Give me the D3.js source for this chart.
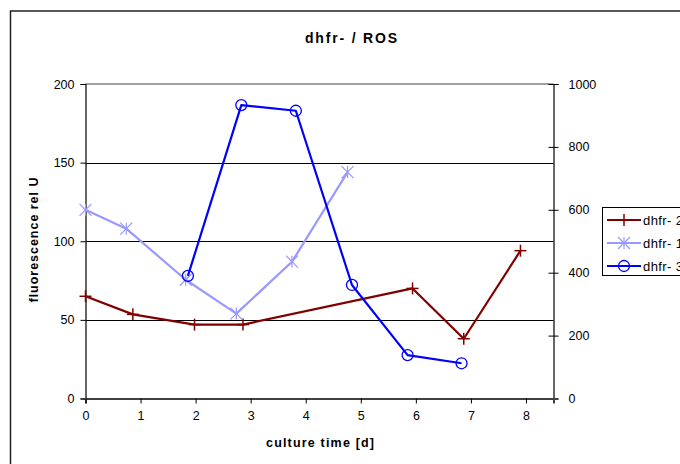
<!DOCTYPE html>
<html>
<head>
<meta charset="utf-8">
<script src="https://cdn.jsdelivr.net/npm/d3@7"></script>
<style>
  html, body { margin: 0; padding: 0; background: #fff; }
  svg { display: block; font-family: "Liberation Sans", Arial, sans-serif; }
</style>
</head>
<body>
<svg id="chart" width="680" height="464"></svg>
<script>
// Culture time [d] and readings per series
const seriesNames = ["dhfr- 2", "dhfr- 1", "dhfr- 3"];

const dhfr2Days  = [0, 0.86, 1.98, 2.86, 5.94, 6.87, 7.9];
const dhfr2Value = [65, 53.5, 47, 47, 70, 38, 94];

const dhfr1Days  = [0, 0.74, 1.82, 2.74, 3.75, 4.76];
const dhfr1Value = [120, 108, 75.5, 54, 87, 144];

// plotted against the right axis
const dhfr3Days  = [1.86, 2.83, 3.82, 4.84, 5.85, 6.83];
const dhfr3Value = [390, 933, 915, 361, 138, 112];

const xTicks      = [0, 1, 2, 3, 4, 5, 6, 7, 8];
const leftTicks   = [0, 50, 100, 150, 200];
const rightTicks  = [0, 200, 400, 600, 800, 1000];

const svg = d3.select("#chart");

const plot = { left: 85.5, right: 553.5, top: 84, bottom: 398.5 };

const x = d3.scaleLinear().domain([0, 8.5]).range([plot.left, plot.right]);
const yL = d3.scaleLinear().domain([0, 200]).range([plot.bottom, plot.top]);
const yR = d3.scaleLinear().domain([0, 1000]).range([plot.bottom, plot.top]);

// outer chart frame
svg.append("rect")
  .attr("x", 10.5).attr("y", 11)
  .attr("width", 720).attr("height", 500)
  .attr("fill", "#fff").attr("stroke", "#222").attr("stroke-width", 1.5);

// title
svg.append("text")
  .attr("x", 351).attr("y", 43)
  .attr("text-anchor", "middle")
  .attr("font-size", 14).attr("font-weight", "bold")
  .attr("textLength", 92).attr("lengthAdjust", "spacing")
  .text("dhfr- / ROS");

// horizontal gridlines
svg.append("g")
  .selectAll("line")
  .data(leftTicks.filter(d => d > 0 && d < 200))
  .join("line")
  .attr("x1", plot.left).attr("x2", plot.right)
  .attr("y1", d => Math.round(yL(d)) + 0.5).attr("y2", d => Math.round(yL(d)) + 0.5)
  .attr("stroke", "#000").attr("stroke-width", 1);

// plot area top border
svg.append("line")
  .attr("x1", plot.left).attr("x2", plot.right)
  .attr("y1", plot.top).attr("y2", plot.top)
  .attr("stroke", "#808080").attr("stroke-width", 1.5);

const tickFont = g => g.selectAll(".tick text")
  .attr("font-size", 12.5).attr("fill", "#000")
  .attr("font-family", "Liberation Sans, Arial, sans-serif");

// left axis
const leftAxis = d3.axisLeft(yL).tickValues(leftTicks).tickSize(5).tickPadding(6).tickFormat(d3.format("d"));
const gL = svg.append("g").attr("transform", `translate(${plot.left},0)`).call(leftAxis);
gL.select(".domain").attr("stroke", "#000").attr("stroke-width", 1.2);
gL.selectAll(".tick line").attr("stroke", "#000");
tickFont(gL);

// right axis (ticks cross the axis line)
const rightAxis = d3.axisRight(yR).tickValues(rightTicks).tickSize(5).tickPadding(10).tickFormat(d3.format("d"));
const gR = svg.append("g").attr("transform", `translate(${plot.right},0)`).call(rightAxis);
gR.select(".domain").attr("stroke", "#000").attr("stroke-width", 1.2);
gR.selectAll(".tick line").attr("stroke", "#000").attr("x1", -5);
tickFont(gR);

// bottom axis
const bottomAxis = d3.axisBottom(x).tickValues(xTicks).tickSize(5).tickPadding(8).tickFormat(d3.format("d"));
const gB = svg.append("g").attr("transform", `translate(0,${plot.bottom})`).call(bottomAxis);
gB.select(".domain").attr("stroke", "#404040").attr("stroke-width", 2);
gB.selectAll(".tick line").attr("stroke", "#000");
tickFont(gB);

// axis titles
svg.append("text")
  .attr("x", 320).attr("y", 447)
  .attr("text-anchor", "middle")
  .attr("font-size", 12.5).attr("font-weight", "bold")
  .attr("textLength", 108).attr("lengthAdjust", "spacing")
  .text("culture time [d]");

svg.append("text")
  .attr("transform", "translate(38,240) rotate(-90)")
  .attr("text-anchor", "middle")
  .attr("font-size", 12.5).attr("font-weight", "bold")
  .attr("textLength", 125).attr("lengthAdjust", "spacing")
  .text("fluorescence rel U");

// marker drawers
function plusMarker(g, cx, cy, color) {
  g.append("line").attr("x1", cx - 6).attr("x2", cx + 6).attr("y1", cy).attr("y2", cy)
    .attr("stroke", color).attr("stroke-width", 1.5);
  g.append("line").attr("x1", cx).attr("x2", cx).attr("y1", cy - 6).attr("y2", cy + 6)
    .attr("stroke", color).attr("stroke-width", 1.5);
}
function starMarker(g, cx, cy, color) {
  const s = 6;
  [[-s, -s, s, s], [-s, s, s, -s], [0, -s, 0, s]].forEach(([a, b, c, d]) => {
    g.append("line").attr("x1", cx + a).attr("y1", cy + b).attr("x2", cx + c).attr("y2", cy + d)
      .attr("stroke", color).attr("stroke-width", 1.2);
  });
}
function circleMarker(g, cx, cy, color) {
  g.append("circle").attr("cx", cx).attr("cy", cy).attr("r", 5.5)
    .attr("fill", "none").attr("stroke", color).attr("stroke-width", 1.3);
}

const series = [
  { name: seriesNames[0], days: dhfr2Days, vals: dhfr2Value, y: yL, color: "#800000", marker: plusMarker },
  { name: seriesNames[1], days: dhfr1Days, vals: dhfr1Value, y: yL, color: "#9999FF", marker: starMarker },
  { name: seriesNames[2], days: dhfr3Days, vals: dhfr3Value, y: yR, color: "#0000FF", marker: circleMarker }
];

const line = d3.line();
series.forEach(s => {
  const pts = s.days.map((d, i) => [x(d), s.y(s.vals[i])]);
  const g = svg.append("g");
  g.append("path").attr("d", line(pts))
    .attr("fill", "none").attr("stroke", s.color).attr("stroke-width", 2.2)
    .attr("stroke-linejoin", "round");
  pts.forEach(([px, py]) => s.marker(g, px, py, s.color));
});

// legend (box runs past the right edge of the page)
const legend = svg.append("g");
legend.append("rect")
  .attr("x", 602.5).attr("y", 207.5).attr("width", 100).attr("height", 68)
  .attr("fill", "#fff").attr("stroke", "#000").attr("stroke-width", 1);
const legendY = [220, 243, 266];
series.forEach((s, i) => {
  const ly = legendY[i];
  legend.append("line").attr("x1", 607).attr("x2", 641).attr("y1", ly).attr("y2", ly)
    .attr("stroke", s.color).attr("stroke-width", 2.2);
  s.marker(legend, 624, ly, s.color);
  legend.append("text").attr("x", 643).attr("y", ly + 4.5)
    .attr("font-size", 13).attr("letter-spacing", 0.4).text(s.name);
});
</script>
</body>
</html>
